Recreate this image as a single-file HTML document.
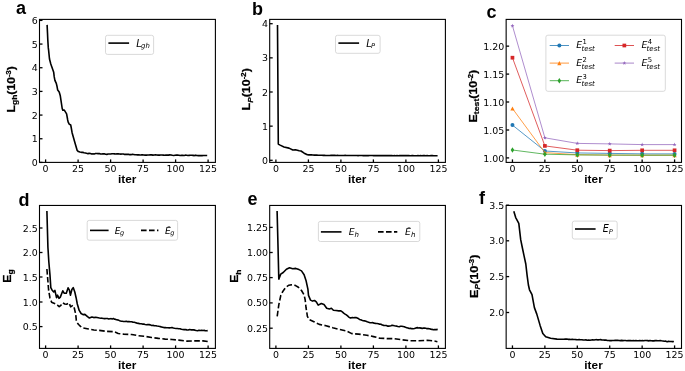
<!DOCTYPE html>
<html lang="en"><head><meta charset="utf-8"><title>Training curves</title>
<style>
html,body{margin:0;padding:0;background:#fff;}
body{width:685px;height:371px;overflow:hidden;}
svg{display:block;will-change:transform;}
.tk{stroke:#000;stroke-width:1.3;}
.sp{fill:none;stroke:#000;stroke-width:1.1;}
.tl{font-family:"DejaVu Sans", "Liberation Sans", sans-serif;font-size:9.45px;fill:#000;}
.xl{font-family:"Liberation Sans", "DejaVu Sans", sans-serif;font-weight:bold;font-size:10.2px;fill:#000;}
.yl{font-family:"Liberation Sans", "DejaVu Sans", sans-serif;font-weight:bold;font-size:11.3px;fill:#000;stroke:#000;stroke-width:0.25px;}
.pl{font-family:"Liberation Sans", "DejaVu Sans", sans-serif;font-weight:bold;font-size:18px;fill:#000;}
.mt{font-family:"DejaVu Sans", "Liberation Sans", sans-serif;font-style:italic;fill:#000;}
</style></head><body>
<svg width="685" height="371" viewBox="0 0 685 371">
<rect x="0" y="0" width="685" height="371" fill="#fff"/>
<polyline points="47.1,24.9 47.5,33 47.8,40 48.3,47.9 48.6,50.1 49.5,59 50.8,64 53.7,72.3 54.2,76.7 54.9,80.3 56.3,83.4 57.1,86.8 57.7,90.1 59.2,92 60.3,95.8 62.2,108.5 62.8,110.1 64.3,110.1 66.6,113.9 67.7,120 68.1,121.8 69.2,124.1 70.7,125 71.2,127.5 72.1,132.7 75.3,144 77.2,150.4 78.4,151.6 79.87,152.07 81.33,152.33 82.8,152.38 84.08,152.75 85.35,152.97 86.62,153.33 87.9,153.64 89.18,153.4 90.45,153.46 91.72,153.97 93,153.87 94.25,153.93 95.5,153.45 96.75,153.57 98,153.61 99.27,153.48 100.53,153.96 101.8,154.05 103.07,153.73 104.33,153.85 105.6,154.22 106.87,154.38 108.14,154.05 109.41,153.93 110.69,153.99 111.96,153.75 113.23,153.8 114.5,153.87 115.77,153.94 117.05,153.85 118.32,153.9 119.6,153.93 120.87,154.1 122.14,154.06 123.42,153.97 124.69,154.42 125.97,154.32 127.24,154.41 128.51,154.22 129.79,154.67 131.06,154.65 132.33,154.32 133.61,154.47 134.88,154.71 136.16,154.74 137.43,154.9 138.7,154.69 139.98,154.93 141.25,154.9 142.53,154.76 143.8,154.94 145.1,155.1 146.4,155.1 147.7,154.94 149,154.99 150.3,154.73 151.6,154.85 152.9,155.14 154.2,154.96 155.5,154.85 156.8,155.05 158.1,155.14 159.4,155.14 160.7,155 162,155.04 163.3,155.09 164.6,155.24 165.9,155.12 167.2,155.07 168.5,155.13 169.8,154.91 171.1,154.93 172.4,155.28 173.7,155.43 175,155.25 176.29,155.16 177.58,155.06 178.86,155.24 180.15,155.49 181.44,155.4 182.73,155.29 184.02,155.46 185.3,155.16 186.59,155.31 187.88,155.55 189.17,155.37 190.46,155.32 191.74,155.24 193.03,155.39 194.32,155.61 195.61,155.14 196.9,155.55 198.18,155.58 199.47,155.62 200.76,155.56 202.05,155.61 203.34,155.47 204.62,155.51 205.91,155.45 207.2,155.5" fill="none" stroke="#000" stroke-width="1.6" stroke-linejoin="round" stroke-linecap="butt"/>
<line x1="45.6" y1="162.4" x2="45.6" y2="159.4" class="tk"/>
<text x="45.6" y="171.6" class="tl" text-anchor="middle">0</text>
<line x1="78.1" y1="162.4" x2="78.1" y2="159.4" class="tk"/>
<text x="78.1" y="171.6" class="tl" text-anchor="middle">25</text>
<line x1="110.6" y1="162.4" x2="110.6" y2="159.4" class="tk"/>
<text x="110.6" y="171.6" class="tl" text-anchor="middle">50</text>
<line x1="143.1" y1="162.4" x2="143.1" y2="159.4" class="tk"/>
<text x="143.1" y="171.6" class="tl" text-anchor="middle">75</text>
<line x1="175.6" y1="162.4" x2="175.6" y2="159.4" class="tk"/>
<text x="175.6" y="171.6" class="tl" text-anchor="middle">100</text>
<line x1="208.1" y1="162.4" x2="208.1" y2="159.4" class="tk"/>
<text x="208.1" y="171.6" class="tl" text-anchor="middle">125</text>
<line x1="39.5" y1="20.4" x2="42.5" y2="20.4" class="tk"/>
<text x="37.7" y="23.9" class="tl" text-anchor="end">6</text>
<line x1="39.5" y1="44.07" x2="42.5" y2="44.07" class="tk"/>
<text x="37.7" y="47.57" class="tl" text-anchor="end">5</text>
<line x1="39.5" y1="67.74" x2="42.5" y2="67.74" class="tk"/>
<text x="37.7" y="71.24" class="tl" text-anchor="end">4</text>
<line x1="39.5" y1="91.41" x2="42.5" y2="91.41" class="tk"/>
<text x="37.7" y="94.91" class="tl" text-anchor="end">3</text>
<line x1="39.5" y1="115.08" x2="42.5" y2="115.08" class="tk"/>
<text x="37.7" y="118.58" class="tl" text-anchor="end">2</text>
<line x1="39.5" y1="138.75" x2="42.5" y2="138.75" class="tk"/>
<text x="37.7" y="142.25" class="tl" text-anchor="end">1</text>
<line x1="39.5" y1="162.42" x2="42.5" y2="162.42" class="tk"/>
<text x="37.7" y="165.92" class="tl" text-anchor="end">0</text>
<rect x="39.5" y="19.4" width="175.9" height="143" class="sp"/>
<text transform="translate(127.15 182.7) scale(1.16 1)" class="xl" text-anchor="middle">iter</text>
<rect x="105.5" y="35.3" width="48.1" height="19.1" rx="2" ry="2" fill="#fff" fill-opacity="0.8" stroke="#d2d2d2" stroke-width="0.85"/>
<line x1="108.4" y1="43.1" x2="129.1" y2="43.1" stroke="#000" stroke-width="1.6"/>
<text x="136.3" y="46.8" class="mt" font-size="9.9">L<tspan x="141.1" y="47.95" font-size="6.9">gh</tspan></text>
<polyline points="277.5,25 278.3,144 279.6,144.9 284,147 289,148.1 292.8,150 295.4,149.7 299.2,150.8 301,151 304.2,153.2 307.4,154.8 308.77,154.92 310.13,154.83 311.5,154.89 312.87,155.05 314.23,155.09 315.6,155.13 316.87,155.11 318.14,155.2 319.41,155.24 320.69,155.28 321.96,155.26 323.23,155.35 324.5,155.38 325.79,155.44 327.08,155.48 328.37,155.48 329.66,155.43 330.95,155.41 332.24,155.39 333.53,155.36 334.83,155.37 336.12,155.44 337.41,155.42 338.7,155.43 339.99,155.51 341.28,155.46 342.57,155.47 343.86,155.43 345.15,155.4 346.44,155.45 347.73,155.43 349.02,155.49 350.31,155.57 351.6,155.52 352.9,155.45 354.19,155.57 355.48,155.56 356.77,155.55 358.06,155.58 359.35,155.57 360.64,155.57 361.93,155.51 363.22,155.61 364.51,155.61 365.8,155.5 367.09,155.59 368.38,155.59 369.67,155.56 370.97,155.57 372.26,155.57 373.55,155.64 374.84,155.58 376.13,155.64 377.42,155.57 378.71,155.65 380,155.66 381.31,155.6 382.62,155.61 383.93,155.67 385.24,155.64 386.55,155.61 387.85,155.57 389.16,155.59 390.47,155.65 391.78,155.57 393.09,155.68 394.4,155.59 395.71,155.69 397.02,155.6 398.33,155.7 399.64,155.67 400.95,155.64 402.25,155.64 403.56,155.66 404.87,155.66 406.18,155.62 407.49,155.6 408.8,155.65 410.11,155.72 411.42,155.67 412.73,155.59 414.04,155.71 415.35,155.7 416.65,155.72 417.96,155.62 419.27,155.7 420.58,155.6 421.89,155.7 423.2,155.64 424.51,155.64 425.82,155.74 427.13,155.62 428.44,155.69 429.75,155.74 431.05,155.65 432.36,155.65 433.67,155.75 434.98,155.68 436.29,155.73 437.6,155.7" fill="none" stroke="#000" stroke-width="1.6" stroke-linejoin="round" stroke-linecap="butt"/>
<line x1="275.9" y1="162.4" x2="275.9" y2="159.4" class="tk"/>
<text x="275.9" y="171.6" class="tl" text-anchor="middle">0</text>
<line x1="308.4" y1="162.4" x2="308.4" y2="159.4" class="tk"/>
<text x="308.4" y="171.6" class="tl" text-anchor="middle">25</text>
<line x1="340.9" y1="162.4" x2="340.9" y2="159.4" class="tk"/>
<text x="340.9" y="171.6" class="tl" text-anchor="middle">50</text>
<line x1="373.4" y1="162.4" x2="373.4" y2="159.4" class="tk"/>
<text x="373.4" y="171.6" class="tl" text-anchor="middle">75</text>
<line x1="405.9" y1="162.4" x2="405.9" y2="159.4" class="tk"/>
<text x="405.9" y="171.6" class="tl" text-anchor="middle">100</text>
<line x1="438.4" y1="162.4" x2="438.4" y2="159.4" class="tk"/>
<text x="438.4" y="171.6" class="tl" text-anchor="middle">125</text>
<line x1="269.7" y1="23.7" x2="272.7" y2="23.7" class="tk"/>
<text x="267.9" y="27.2" class="tl" text-anchor="end">4</text>
<line x1="269.7" y1="57.85" x2="272.7" y2="57.85" class="tk"/>
<text x="267.9" y="61.35" class="tl" text-anchor="end">3</text>
<line x1="269.7" y1="92" x2="272.7" y2="92" class="tk"/>
<text x="267.9" y="95.5" class="tl" text-anchor="end">2</text>
<line x1="269.7" y1="126.15" x2="272.7" y2="126.15" class="tk"/>
<text x="267.9" y="129.65" class="tl" text-anchor="end">1</text>
<line x1="269.7" y1="160.3" x2="272.7" y2="160.3" class="tk"/>
<text x="267.9" y="163.8" class="tl" text-anchor="end">0</text>
<rect x="269.7" y="19.4" width="175.7" height="143" class="sp"/>
<text transform="translate(357.25 182.7) scale(1.16 1)" class="xl" text-anchor="middle">iter</text>
<rect x="335.5" y="35.3" width="44.6" height="18" rx="2" ry="2" fill="#fff" fill-opacity="0.8" stroke="#d2d2d2" stroke-width="0.85"/>
<line x1="338.4" y1="43.1" x2="359.1" y2="43.1" stroke="#000" stroke-width="1.6"/>
<text x="366.3" y="46.8" class="mt" font-size="9.9">L<tspan x="370.9" y="47.7" font-size="6.6">P</tspan></text>
<polyline points="512.45,125.1 544.88,151 577.3,152.95 609.73,153.4 642.15,153.85 674.58,153.9" fill="none" stroke="#1f77b4" stroke-width="0.75" stroke-linejoin="round"/>
<circle cx="512.45" cy="125.1" r="2" fill="#1f77b4"/>
<circle cx="544.88" cy="151" r="2" fill="#1f77b4"/>
<circle cx="577.3" cy="152.95" r="2" fill="#1f77b4"/>
<circle cx="609.73" cy="153.4" r="2" fill="#1f77b4"/>
<circle cx="642.15" cy="153.85" r="2" fill="#1f77b4"/>
<circle cx="674.58" cy="153.9" r="2" fill="#1f77b4"/>
<polyline points="512.45,108.5 544.88,152.6 577.3,154.7 609.73,155.1 642.15,155.2 674.58,155.2" fill="none" stroke="#ff7f0e" stroke-width="0.75" stroke-linejoin="round"/>
<polygon points="512.45,106.4 514.55,110.6 510.35,110.6" fill="#ff7f0e"/>
<polygon points="544.88,150.5 546.98,154.7 542.77,154.7" fill="#ff7f0e"/>
<polygon points="577.3,152.6 579.4,156.8 575.2,156.8" fill="#ff7f0e"/>
<polygon points="609.73,153 611.83,157.2 607.62,157.2" fill="#ff7f0e"/>
<polygon points="642.15,153.1 644.25,157.3 640.05,157.3" fill="#ff7f0e"/>
<polygon points="674.58,153.1 676.68,157.3 672.48,157.3" fill="#ff7f0e"/>
<polyline points="512.45,150 544.88,154.2 577.3,154.9 609.73,155.1 642.15,155.2 674.58,155.2" fill="none" stroke="#2ca02c" stroke-width="0.75" stroke-linejoin="round"/>
<polygon points="512.45,147.2 514.2,150 512.45,152.8 510.7,150" fill="#2ca02c"/>
<polygon points="544.88,151.4 546.62,154.2 544.88,157 543.12,154.2" fill="#2ca02c"/>
<polygon points="577.3,152.1 579.05,154.9 577.3,157.7 575.55,154.9" fill="#2ca02c"/>
<polygon points="609.73,152.3 611.48,155.1 609.73,157.9 607.98,155.1" fill="#2ca02c"/>
<polygon points="642.15,152.4 643.9,155.2 642.15,158 640.4,155.2" fill="#2ca02c"/>
<polygon points="674.58,152.4 676.33,155.2 674.58,158 672.83,155.2" fill="#2ca02c"/>
<polyline points="512.45,57.7 544.88,145.9 577.3,150.2 609.73,150.6 642.15,150.3 674.58,150.3" fill="none" stroke="#d62728" stroke-width="0.75" stroke-linejoin="round"/>
<rect x="510.6" y="55.85" width="3.7" height="3.7" fill="#d62728"/>
<rect x="543.02" y="144.05" width="3.7" height="3.7" fill="#d62728"/>
<rect x="575.45" y="148.35" width="3.7" height="3.7" fill="#d62728"/>
<rect x="607.88" y="148.75" width="3.7" height="3.7" fill="#d62728"/>
<rect x="640.3" y="148.45" width="3.7" height="3.7" fill="#d62728"/>
<rect x="672.73" y="148.45" width="3.7" height="3.7" fill="#d62728"/>
<polyline points="512.45,25.8 544.88,137.8 577.3,143.4 609.73,143.9 642.15,144.6 674.58,144.6" fill="none" stroke="#9467bd" stroke-width="0.75" stroke-linejoin="round"/>
<polygon points="512.45,23.7 512.95,25.11 514.45,25.15 513.26,26.06 513.68,27.5 512.45,26.65 511.22,27.5 511.64,26.06 510.45,25.15 511.95,25.11" fill="#9467bd"/>
<polygon points="544.88,135.7 545.37,137.11 546.87,137.15 545.68,138.06 546.11,139.5 544.88,138.65 543.64,139.5 544.07,138.06 542.88,137.15 544.38,137.11" fill="#9467bd"/>
<polygon points="577.3,141.3 577.8,142.71 579.3,142.75 578.11,143.66 578.53,145.1 577.3,144.25 576.07,145.1 576.49,143.66 575.3,142.75 576.8,142.71" fill="#9467bd"/>
<polygon points="609.73,141.8 610.22,143.21 611.72,143.25 610.53,144.16 610.96,145.6 609.73,144.75 608.49,145.6 608.92,144.16 607.73,143.25 609.23,143.21" fill="#9467bd"/>
<polygon points="642.15,142.5 642.65,143.91 644.15,143.95 642.96,144.86 643.38,146.3 642.15,145.45 640.92,146.3 641.34,144.86 640.15,143.95 641.65,143.91" fill="#9467bd"/>
<polygon points="674.58,142.5 675.07,143.91 676.57,143.95 675.38,144.86 675.81,146.3 674.58,145.45 673.34,146.3 673.77,144.86 672.58,143.95 674.08,143.91" fill="#9467bd"/>
<line x1="512.45" y1="162.4" x2="512.45" y2="159.4" class="tk"/>
<text x="512.45" y="171.6" class="tl" text-anchor="middle">0</text>
<line x1="544.88" y1="162.4" x2="544.88" y2="159.4" class="tk"/>
<text x="544.88" y="171.6" class="tl" text-anchor="middle">25</text>
<line x1="577.3" y1="162.4" x2="577.3" y2="159.4" class="tk"/>
<text x="577.3" y="171.6" class="tl" text-anchor="middle">50</text>
<line x1="609.73" y1="162.4" x2="609.73" y2="159.4" class="tk"/>
<text x="609.73" y="171.6" class="tl" text-anchor="middle">75</text>
<line x1="642.15" y1="162.4" x2="642.15" y2="159.4" class="tk"/>
<text x="642.15" y="171.6" class="tl" text-anchor="middle">100</text>
<line x1="674.58" y1="162.4" x2="674.58" y2="159.4" class="tk"/>
<text x="674.58" y="171.6" class="tl" text-anchor="middle">125</text>
<line x1="506.15" y1="46.15" x2="509.15" y2="46.15" class="tk"/>
<text x="504.35" y="49.65" class="tl" text-anchor="end">1.20</text>
<line x1="506.15" y1="74.1" x2="509.15" y2="74.1" class="tk"/>
<text x="504.35" y="77.6" class="tl" text-anchor="end">1.15</text>
<line x1="506.15" y1="102" x2="509.15" y2="102" class="tk"/>
<text x="504.35" y="105.5" class="tl" text-anchor="end">1.10</text>
<line x1="506.15" y1="130" x2="509.15" y2="130" class="tk"/>
<text x="504.35" y="133.5" class="tl" text-anchor="end">1.05</text>
<line x1="506.15" y1="157.9" x2="509.15" y2="157.9" class="tk"/>
<text x="504.35" y="162.2" class="tl" text-anchor="end">1.00</text>
<rect x="506.15" y="19.4" width="175.35" height="143" class="sp"/>
<text transform="translate(593.53 182.7) scale(1.16 1)" class="xl" text-anchor="middle">iter</text>
<rect x="545.9" y="35.2" width="119.4" height="56.1" rx="2" ry="2" fill="#fff" fill-opacity="0.8" stroke="#d2d2d2" stroke-width="0.85"/>
<line x1="549.7" y1="45.5" x2="569" y2="45.5" stroke="#1f77b4" stroke-width="0.8"/>
<circle cx="559.35" cy="45.5" r="2" fill="#1f77b4"/>
<text x="576.2" y="48.25" class="mt" font-size="9.3">E<tspan x="582.5" y="43.9" font-size="6.8" font-style="normal">1</tspan><tspan x="581.4" y="50.9" font-size="7">test</tspan></text>
<line x1="549.7" y1="63.1" x2="569" y2="63.1" stroke="#ff7f0e" stroke-width="0.8"/>
<polygon points="559.35,61 561.45,65.2 557.25,65.2" fill="#ff7f0e"/>
<text x="576.2" y="65.85" class="mt" font-size="9.3">E<tspan x="582.5" y="61.5" font-size="6.8" font-style="normal">2</tspan><tspan x="581.4" y="68.5" font-size="7">test</tspan></text>
<line x1="549.7" y1="80.7" x2="569" y2="80.7" stroke="#2ca02c" stroke-width="0.8"/>
<polygon points="559.35,77.9 561.1,80.7 559.35,83.5 557.6,80.7" fill="#2ca02c"/>
<text x="576.2" y="83.45" class="mt" font-size="9.3">E<tspan x="582.5" y="79.1" font-size="6.8" font-style="normal">3</tspan><tspan x="581.4" y="86.1" font-size="7">test</tspan></text>
<line x1="614.7" y1="45.5" x2="634" y2="45.5" stroke="#d62728" stroke-width="0.8"/>
<rect x="622.5" y="43.65" width="3.7" height="3.7" fill="#d62728"/>
<text x="641.4" y="48.25" class="mt" font-size="9.3">E<tspan x="647.7" y="43.9" font-size="6.8" font-style="normal">4</tspan><tspan x="646.6" y="50.9" font-size="7">test</tspan></text>
<line x1="614.7" y1="63.1" x2="634" y2="63.1" stroke="#9467bd" stroke-width="0.8"/>
<polygon points="624.35,61 624.85,62.41 626.35,62.45 625.16,63.36 625.58,64.8 624.35,63.95 623.12,64.8 623.54,63.36 622.35,62.45 623.85,62.41" fill="#9467bd"/>
<text x="641.4" y="65.85" class="mt" font-size="9.3">E<tspan x="647.7" y="61.5" font-size="6.8" font-style="normal">5</tspan><tspan x="646.6" y="68.5" font-size="7">test</tspan></text>
<polyline points="46.9,211.1 47.9,247 48.1,250 48.8,261.5 50,275.4 50.8,287.6 52,289.9 53.7,292 54.9,290.4 56.5,297.7 57.5,295.2 59,298.4 60.3,297.1 62.8,290.8 64.3,293.3 66.3,293.3 68.1,287.8 69.4,290.1 70.4,295.2 71.9,289.5 73.2,287.6 74.8,292 76.1,297.7 77.3,304 79.2,310.4 81.1,313.5 83,314.6 84.9,314.4 87.5,316.7 89.4,318 91.9,317 93.8,317.6 95.7,317.3 99.5,318 100.8,318.17 102.1,318.23 103.4,318.5 104.7,318.66 106.05,318.46 107.4,318.51 108.75,318.99 110.1,318.78 111.2,318.67 112.3,318.95 113.4,318.59 114.6,319.17 115.8,319.39 117,319.87 118.2,320.03 119.53,320.63 120.87,321.12 122.2,321.31 123.56,321.48 124.92,321.51 126.28,321.26 127.64,321.67 129,321.65 130.35,321.68 131.7,321.72 133.05,322.31 134.4,322.29 135.75,322.73 137.1,323.14 138.45,323.38 139.8,323.81 141.12,323.72 142.45,324.1 143.78,324.1 145.1,324.52 146.42,324.67 147.74,324.46 149.06,324.66 150.38,324.88 151.7,325.43 153.06,325.39 154.42,325.7 155.78,325.76 157.14,326.08 158.5,326.24 159.85,326.5 161.2,326.89 162.55,327.17 163.9,327.6 165.25,327.54 166.6,327.71 167.95,327.73 169.3,327.85 170.65,327.74 172,327.53 173.34,328.06 174.68,328.29 176.02,328.44 177.36,328.45 178.7,328.71 180.05,328.73 181.4,329.32 182.75,329.46 184.1,329.59 185.46,329.48 186.82,329.88 188.18,329.94 189.54,329.49 190.9,329.85 192.24,329.84 193.58,329.89 194.92,330.14 196.26,330.55 197.6,330.79 198.95,330.32 200.3,330.56 201.65,330.22 203,330.51 204.18,330.37 205.35,330.69 206.52,330.79 207.7,330.6" fill="none" stroke="#000" stroke-width="1.6" stroke-linejoin="round" stroke-linecap="butt"/>
<polyline points="46.9,269 47.8,280 48.6,290 49.9,297.7 51.6,302.2 53.9,303.2 55.8,304 57.7,305.3 59.2,306.6 60.9,305.3 62.8,302.8 64.7,304 66.6,304.3 69.1,303 70.6,306.8 72.9,305.3 74.4,308.5 75.7,314.2 76.3,320.2 77,322.5 78.6,324.5 80.5,326.3 82.4,327.7 88.5,329 93.9,330 99.3,330.4 106,331.3 114.1,331.7 118.2,333.5 123.6,334.1 131.7,334.5 138.4,335.7 145.1,336.4 151.7,337.5 158.5,338.4 165.2,339.1 172,339.5 178.7,340.1 186.8,341.1 194.9,340.9 203,340.9 207.7,341.5" fill="none" stroke="#000" stroke-width="1.6" stroke-linejoin="round" stroke-linecap="butt" stroke-dasharray="5.6 2.4"/>
<line x1="45.6" y1="348.4" x2="45.6" y2="345.4" class="tk"/>
<text x="45.6" y="357.6" class="tl" text-anchor="middle">0</text>
<line x1="78.1" y1="348.4" x2="78.1" y2="345.4" class="tk"/>
<text x="78.1" y="357.6" class="tl" text-anchor="middle">25</text>
<line x1="110.6" y1="348.4" x2="110.6" y2="345.4" class="tk"/>
<text x="110.6" y="357.6" class="tl" text-anchor="middle">50</text>
<line x1="143.1" y1="348.4" x2="143.1" y2="345.4" class="tk"/>
<text x="143.1" y="357.6" class="tl" text-anchor="middle">75</text>
<line x1="175.6" y1="348.4" x2="175.6" y2="345.4" class="tk"/>
<text x="175.6" y="357.6" class="tl" text-anchor="middle">100</text>
<line x1="208.1" y1="348.4" x2="208.1" y2="345.4" class="tk"/>
<text x="208.1" y="357.6" class="tl" text-anchor="middle">125</text>
<line x1="39.5" y1="228" x2="42.5" y2="228" class="tk"/>
<text x="37.7" y="231.5" class="tl" text-anchor="end">2.5</text>
<line x1="39.5" y1="252.5" x2="42.5" y2="252.5" class="tk"/>
<text x="37.7" y="256" class="tl" text-anchor="end">2.0</text>
<line x1="39.5" y1="277" x2="42.5" y2="277" class="tk"/>
<text x="37.7" y="280.5" class="tl" text-anchor="end">1.5</text>
<line x1="39.5" y1="302" x2="42.5" y2="302" class="tk"/>
<text x="37.7" y="305.5" class="tl" text-anchor="end">1.0</text>
<line x1="39.5" y1="326.6" x2="42.5" y2="326.6" class="tk"/>
<text x="37.7" y="330.1" class="tl" text-anchor="end">0.5</text>
<rect x="39.5" y="205.45" width="175.9" height="142.95" class="sp"/>
<text transform="translate(127.15 368.7) scale(1.16 1)" class="xl" text-anchor="middle">iter</text>
<rect x="87.2" y="220.4" width="90.4" height="19.8" rx="2" ry="2" fill="#fff" fill-opacity="0.8" stroke="#d2d2d2" stroke-width="0.85"/>
<line x1="90" y1="230.4" x2="108.6" y2="230.4" stroke="#000" stroke-width="1.6"/>
<text x="114.7" y="233.7" class="mt" font-size="9.1">E<tspan x="119.9" y="234.7" font-size="6.55">g</tspan></text>
<line x1="141" y1="230.4" x2="158.4" y2="230.4" stroke="#000" stroke-width="1.6" stroke-dasharray="5.6 2.4"/>
<text x="165.1" y="233.7" class="mt" font-size="9.1">&#x1EBC;<tspan x="170.3" y="234.7" font-size="6.55">g</tspan></text>
<polyline points="277.1,211 278.1,250 278.8,279.1 280.7,274.1 283.2,272.5 286.4,269.2 289.5,267.7 292.7,268.7 295.8,268.4 299,269.6 301.5,270.9 304.1,274.7 306,280.4 307.9,289.2 308.5,295.4 310.5,300.1 312.5,301.1 314.5,300.5 316.3,301.9 318.2,305.1 321.3,303.5 324,304.6 326.7,308.2 329.4,308.9 331.4,308.2 333.4,310.2 336.1,310.5 338.8,310.9 340.9,310.9 342.3,311.83 343.7,313.11 345.1,314.13 346.35,314.93 347.6,315.95 348.85,317.06 350.1,317.85 351.28,317.83 352.46,317.56 353.64,317.72 354.82,317.59 356,317.54 357.18,318 358.36,318.56 359.54,319.41 360.72,319.86 361.9,320.35 363.24,320.75 364.58,320.85 365.92,321.3 367.26,321.86 368.6,322.32 370,322.59 371.4,322.82 372.8,322.64 374.2,323.12 375.6,323.37 377,323.5 378.34,323.68 379.68,324.17 381.02,324.31 382.36,325.08 383.7,325.38 384.95,325.45 386.2,325.55 387.45,326.08 388.7,326.14 389.83,325.99 390.97,325.67 392.1,325.2 393.28,325.44 394.46,325.81 395.64,326.01 396.82,326.15 398,326.5 399.25,326.71 400.5,326.27 401.75,326.22 403,326.46 404.25,326.72 405.5,327.27 406.75,327.66 408,328.02 409.27,328.55 410.55,328.35 411.83,328.66 413.1,328.75 414.5,328.57 415.9,327.99 417.3,327.63 418.55,327.95 419.8,327.86 421.05,328.1 422.3,328.4 423.48,328.08 424.66,328.14 425.84,328.3 427.02,328.65 428.2,328.66 429.45,328.77 430.7,329.12 431.95,329.34 433.2,329.78 434.7,329.44 436.2,329.63 437.7,329.4" fill="none" stroke="#000" stroke-width="1.6" stroke-linejoin="round" stroke-linecap="butt"/>
<polyline points="277.2,316.3 278.8,304.8 280.8,295.4 282.6,291.8 285.7,287.3 288.9,285.2 291.4,284.8 295.2,285.4 298.4,287.3 301.5,290.5 304.1,294.9 305.2,300 306,307.5 307.4,316.3 309.1,319.4 313.9,321.7 319.3,324.4 326,325.7 332.8,327.8 338.1,329.1 345.9,330.8 351.8,333.6 358.5,334.1 366.9,335.3 373.6,336.6 379.5,338.1 387,338.6 393.8,338.6 402.2,339.8 410.5,340.7 418.9,340.7 427.3,340.3 433.2,340.8 437.4,341.7" fill="none" stroke="#000" stroke-width="1.6" stroke-linejoin="round" stroke-linecap="butt" stroke-dasharray="5.6 2.4"/>
<line x1="275.9" y1="348.4" x2="275.9" y2="345.4" class="tk"/>
<text x="275.9" y="357.6" class="tl" text-anchor="middle">0</text>
<line x1="308.4" y1="348.4" x2="308.4" y2="345.4" class="tk"/>
<text x="308.4" y="357.6" class="tl" text-anchor="middle">25</text>
<line x1="340.9" y1="348.4" x2="340.9" y2="345.4" class="tk"/>
<text x="340.9" y="357.6" class="tl" text-anchor="middle">50</text>
<line x1="373.4" y1="348.4" x2="373.4" y2="345.4" class="tk"/>
<text x="373.4" y="357.6" class="tl" text-anchor="middle">75</text>
<line x1="405.9" y1="348.4" x2="405.9" y2="345.4" class="tk"/>
<text x="405.9" y="357.6" class="tl" text-anchor="middle">100</text>
<line x1="438.4" y1="348.4" x2="438.4" y2="345.4" class="tk"/>
<text x="438.4" y="357.6" class="tl" text-anchor="middle">125</text>
<line x1="269.7" y1="227.4" x2="272.7" y2="227.4" class="tk"/>
<text x="267.9" y="230.9" class="tl" text-anchor="end">1.25</text>
<line x1="269.7" y1="252.5" x2="272.7" y2="252.5" class="tk"/>
<text x="267.9" y="256" class="tl" text-anchor="end">1.00</text>
<line x1="269.7" y1="277.6" x2="272.7" y2="277.6" class="tk"/>
<text x="267.9" y="281.1" class="tl" text-anchor="end">0.75</text>
<line x1="269.7" y1="302.9" x2="272.7" y2="302.9" class="tk"/>
<text x="267.9" y="306.4" class="tl" text-anchor="end">0.50</text>
<line x1="269.7" y1="328.2" x2="272.7" y2="328.2" class="tk"/>
<text x="267.9" y="331.7" class="tl" text-anchor="end">0.25</text>
<rect x="269.7" y="205.45" width="175.7" height="142.95" class="sp"/>
<text transform="translate(357.25 368.7) scale(1.16 1)" class="xl" text-anchor="middle">iter</text>
<rect x="318.4" y="221.4" width="101.4" height="20.1" rx="2" ry="2" fill="#fff" fill-opacity="0.8" stroke="#d2d2d2" stroke-width="0.85"/>
<line x1="320.9" y1="231.9" x2="341.5" y2="231.9" stroke="#000" stroke-width="1.6"/>
<text x="348.7" y="234.8" class="mt" font-size="9.3">E<tspan x="354.5" y="237" font-size="7">h</tspan></text>
<line x1="378" y1="231.9" x2="397.3" y2="231.9" stroke="#000" stroke-width="1.6" stroke-dasharray="5.6 2.4"/>
<text x="404.9" y="234.8" class="mt" font-size="9.3">&#x1EBC;<tspan x="411" y="237" font-size="7">h</tspan></text>
<polyline points="513.8,211.2 515.7,217.6 518.8,223.3 520.7,239.7 522.3,247.5 523.9,255.1 525.8,264 527.1,275.4 528.4,285 529.5,289.8 532,294.7 534.4,307.6 536.8,314.1 540.1,325.4 542.8,333.5 545.7,336.7 550.6,338.3 557,339.1 558.39,339.18 559.77,339.2 561.16,339.25 562.54,339.18 563.93,339.25 565.31,338.94 566.7,339.09 568.09,339.33 569.47,339.29 570.86,339.45 572.24,339.25 573.63,339.45 575.01,339.44 576.4,339.62 577.76,339.69 579.12,339.55 580.48,339.68 581.84,339.76 583.2,340.05 584.56,340.05 585.92,339.9 587.28,340.18 588.64,340.01 590,340.24 591.33,339.98 592.66,339.85 593.99,340.07 595.31,339.76 596.64,339.67 597.97,339.85 599.3,339.73 600.62,339.64 601.95,339.99 603.27,339.95 604.6,340.11 605.92,340.06 607.25,340.43 608.57,340.45 609.9,340.66 611.2,340.65 612.5,340.45 613.8,340.48 615.1,340.42 616.4,340.42 617.7,340.4 619,340.49 620.3,340.6 621.6,340.4 622.9,340.64 624.2,340.53 625.5,340.53 626.8,340.72 628.1,340.61 629.4,340.56 630.7,340.62 632,340.71 633.3,340.49 634.6,340.82 635.9,340.49 637.2,340.76 638.5,340.8 639.8,340.52 641.1,340.79 642.4,340.65 643.67,340.73 644.95,340.53 646.22,340.54 647.49,340.59 648.77,340.86 650.04,340.59 651.31,340.79 652.59,340.85 653.86,340.85 655.13,340.65 656.41,340.65 657.68,340.71 658.95,340.8 660.23,340.56 661.5,340.79 662.92,341 664.35,341.23 665.78,341.14 667.2,341.66 668.54,341.36 669.88,341.44 671.22,341.54 672.56,341.65 673.9,341.5" fill="none" stroke="#000" stroke-width="1.6" stroke-linejoin="round" stroke-linecap="butt"/>
<line x1="512.45" y1="348.4" x2="512.45" y2="345.4" class="tk"/>
<text x="512.45" y="357.6" class="tl" text-anchor="middle">0</text>
<line x1="544.88" y1="348.4" x2="544.88" y2="345.4" class="tk"/>
<text x="544.88" y="357.6" class="tl" text-anchor="middle">25</text>
<line x1="577.3" y1="348.4" x2="577.3" y2="345.4" class="tk"/>
<text x="577.3" y="357.6" class="tl" text-anchor="middle">50</text>
<line x1="609.73" y1="348.4" x2="609.73" y2="345.4" class="tk"/>
<text x="609.73" y="357.6" class="tl" text-anchor="middle">75</text>
<line x1="642.15" y1="348.4" x2="642.15" y2="345.4" class="tk"/>
<text x="642.15" y="357.6" class="tl" text-anchor="middle">100</text>
<line x1="674.58" y1="348.4" x2="674.58" y2="345.4" class="tk"/>
<text x="674.58" y="357.6" class="tl" text-anchor="middle">125</text>
<line x1="506.15" y1="205.2" x2="509.15" y2="205.2" class="tk"/>
<text x="504.35" y="208.7" class="tl" text-anchor="end">3.5</text>
<line x1="506.15" y1="240.8" x2="509.15" y2="240.8" class="tk"/>
<text x="504.35" y="244.3" class="tl" text-anchor="end">3.0</text>
<line x1="506.15" y1="276.6" x2="509.15" y2="276.6" class="tk"/>
<text x="504.35" y="280.1" class="tl" text-anchor="end">2.5</text>
<line x1="506.15" y1="312.5" x2="509.15" y2="312.5" class="tk"/>
<text x="504.35" y="316" class="tl" text-anchor="end">2.0</text>
<rect x="506.15" y="205.45" width="175.35" height="142.95" class="sp"/>
<text transform="translate(593.53 368.7) scale(1.16 1)" class="xl" text-anchor="middle">iter</text>
<rect x="572.3" y="221.1" width="44.9" height="17.9" rx="2" ry="2" fill="#fff" fill-opacity="0.8" stroke="#d2d2d2" stroke-width="0.85"/>
<line x1="575" y1="229" x2="595.6" y2="229" stroke="#000" stroke-width="1.6"/>
<text x="602.8" y="232.3" class="mt" font-size="9.6">E<tspan x="608.8" y="233.9" font-size="6.7">P</tspan></text>
<text x="15.9" y="13.8" class="pl">a</text>
<text x="252" y="14.7" class="pl">b</text>
<text x="486.6" y="18" class="pl">c</text>
<text x="18.6" y="206" class="pl">d</text>
<text x="247.6" y="205.4" class="pl">e</text>
<text x="479" y="203.7" class="pl">f</text>
<text transform="translate(15.1 89.4) rotate(-90) scale(1.08 1)" class="yl" text-anchor="middle"><tspan dy="-0">L</tspan><tspan font-size="7.9" dy="2.3">gh</tspan><tspan dy="-2.3">(10</tspan><tspan font-size="7" dy="-4">-3</tspan><tspan dy="4">)</tspan></text>
<text transform="translate(250.2 89.3) rotate(-90) scale(1.11 1)" class="yl" text-anchor="middle"><tspan dy="-0">L</tspan><tspan font-size="7.3" font-style="italic" dy="2.3">P</tspan><tspan dy="-2.3">(10</tspan><tspan font-size="7" dy="-4">-2</tspan><tspan dy="4">)</tspan></text>
<text transform="translate(477.1 96.1) rotate(-90) scale(1.1 1)" class="yl" text-anchor="middle"><tspan dy="-0">E</tspan><tspan font-size="7.9" dy="2.3">test</tspan><tspan dy="-2.3">(10</tspan><tspan font-size="7" dy="-4">-2</tspan><tspan dy="4">)</tspan></text>
<text transform="translate(10.8 276) rotate(-90) scale(1.08 1)" class="yl" text-anchor="middle" font-size="11.9"><tspan dy="-0">E</tspan><tspan font-size="7.9" dy="2.3">g</tspan></text>
<text transform="translate(238.2 276.1) rotate(-90) scale(1.08 1)" class="yl" text-anchor="middle" font-size="11.9"><tspan dy="-0">E</tspan><tspan font-size="7.9" dy="2.3">h</tspan></text>
<text transform="translate(477.5 276.3) rotate(-90) scale(1.12 1)" class="yl" text-anchor="middle"><tspan dy="-0">E</tspan><tspan font-size="7.3" font-style="italic" dy="2.3">P</tspan><tspan dy="-2.3">(10</tspan><tspan font-size="7" dy="-4">-3</tspan><tspan dy="4">)</tspan></text>
</svg>
</body></html>
